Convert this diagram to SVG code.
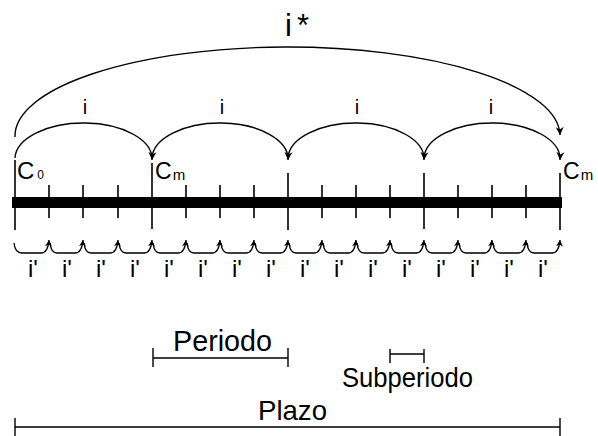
<svg xmlns="http://www.w3.org/2000/svg" width="598" height="436" viewBox="0 0 598 436">
<style>
.ln{stroke:#000;stroke-width:1.4;fill:none}
.tk{stroke:#000;stroke-width:1.6}
.t{font-family:"Liberation Sans",Arial,sans-serif;fill:#000}
.arc{stroke:#000;stroke-width:1.4;fill:none;marker-end:url(#ah)}
.sarc{stroke:#000;stroke-width:1.3;fill:none;marker-end:url(#ahs)}
</style>
<defs>
<marker id="ah" markerWidth="10" markerHeight="10" refX="9" refY="5" orient="auto" markerUnits="userSpaceOnUse">
<path d="M1,1 L9,5 L1,9 L3.5,5 Z" fill="#000"/>
</marker>
<marker id="ahs" markerWidth="8" markerHeight="8" refX="7" refY="4" orient="auto" markerUnits="userSpaceOnUse">
<path d="M0.5,0.5 L7,4 L0.5,7.5 L2.5,4 Z" fill="#000"/>
</marker>
</defs>
<rect width="598" height="436" fill="#fff"/>

<g id="timeline">
<rect x="12" y="197" width="550" height="11" fill="#000"/>
<g class="tk">
<line x1="15" y1="160" x2="15" y2="230"/>
<line x1="49" y1="185" x2="49" y2="218"/>
<line x1="83" y1="185" x2="83" y2="218"/>
<line x1="118" y1="185" x2="118" y2="218"/>
<line x1="152" y1="163" x2="152" y2="229"/>
<line x1="186" y1="185" x2="186" y2="218"/>
<line x1="220" y1="185" x2="220" y2="218"/>
<line x1="254" y1="185" x2="254" y2="218"/>
<line x1="288" y1="173" x2="288" y2="230"/>
<line x1="322" y1="185" x2="322" y2="218"/>
<line x1="356" y1="185" x2="356" y2="218"/>
<line x1="390" y1="185" x2="390" y2="218"/>
<line x1="424" y1="173" x2="424" y2="229"/>
<line x1="458" y1="185" x2="458" y2="218"/>
<line x1="492" y1="185" x2="492" y2="218"/>
<line x1="526" y1="185" x2="526" y2="218"/>
<line x1="560" y1="173" x2="560" y2="230"/>
</g>
</g>

<g id="node-c0"><text class="t" x="17" y="179" font-size="24">C<tspan font-size="12" dx="3">0</tspan></text></g>
<g id="node-cm1"><text class="t" x="155" y="179" font-size="23">C<tspan font-size="15" dx="1" dy="1">m</tspan></text></g>
<g id="node-cm2"><text class="t" x="563" y="179" font-size="23">C<tspan font-size="15" dx="1" dy="1">m</tspan></text></g>

<g id="connectors">
<path class="arc" d="M15,137 A272.5,89 0 0 1 560,135"/>
<path class="arc" d="M15,158 A68.5,36 0 0 1 152,160"/>
<path class="arc" d="M152,158 A68,36 0 0 1 288,160"/>
<path class="arc" d="M288,158 A68,36 0 0 1 424,160"/>
<path class="arc" d="M424,158 A68,36 0 0 1 560,160"/>
<g id="sub-arcs">
<path class="sarc" d="M14,243 Q15,253 22,253 H41 Q48,253 49,240"/>
<path class="sarc" d="M50,243 Q51,253 57,253 H75 Q82,253 83,240"/>
<path class="sarc" d="M84,243 Q85,253 91,253 H110 Q117,253 118,240"/>
<path class="sarc" d="M119,243 Q120,253 126,253 H144 Q151,253 152,240"/>
<path class="sarc" d="M153,243 Q154,253 160,253 H178 Q185,253 186,240"/>
<path class="sarc" d="M187,243 Q188,253 194,253 H212 Q219,253 220,240"/>
<path class="sarc" d="M221,243 Q222,253 228,253 H246 Q253,253 254,240"/>
<path class="sarc" d="M255,243 Q256,253 262,253 H280 Q287,253 288,240"/>
<path class="sarc" d="M289,243 Q290,253 296,253 H314 Q321,253 322,240"/>
<path class="sarc" d="M323,243 Q324,253 330,253 H348 Q355,253 356,240"/>
<path class="sarc" d="M357,243 Q358,253 364,253 H382 Q389,253 390,240"/>
<path class="sarc" d="M391,243 Q392,253 398,253 H416 Q423,253 424,240"/>
<path class="sarc" d="M425,243 Q426,253 432,253 H450 Q457,253 458,240"/>
<path class="sarc" d="M459,243 Q460,253 466,253 H484 Q491,253 492,240"/>
<path class="sarc" d="M493,243 Q494,253 500,253 H518 Q525,253 526,240"/>
<path class="sarc" d="M527,243 Q528,253 534,253 H552 Q559,253 560,240"/>
</g>
</g>

<g id="labels">
<text class="t" font-size="31" y="36"><tspan x="285">i</tspan><tspan x="297">*</tspan></text>
<g class="t" font-size="20" text-anchor="middle">
<text x="85" y="114">i</text>
<text x="222" y="114">i</text>
<text x="357" y="114">i</text>
<text x="491" y="114">i</text>
</g>
<g class="t" font-size="24" text-anchor="middle">
<text x="33" y="277">i'</text>
<text x="67" y="277">i'</text>
<text x="101" y="277">i'</text>
<text x="135" y="277">i'</text>
<text x="169" y="277">i'</text>
<text x="203" y="277">i'</text>
<text x="237" y="277">i'</text>
<text x="271" y="277">i'</text>
<text x="305" y="277">i'</text>
<text x="339" y="277">i'</text>
<text x="373" y="277">i'</text>
<text x="407" y="277">i'</text>
<text x="441" y="277">i'</text>
<text x="475" y="277">i'</text>
<text x="509" y="277">i'</text>
<text x="543" y="277">i'</text>
</g>
</g>

<g id="legend-periodo">
<path class="ln" d="M153,358 H288 M153,348 V367 M288,348 V367"/>
<text class="t" x="173" y="351" font-size="29" textLength="99" lengthAdjust="spacingAndGlyphs">Periodo</text>
</g>
<g id="legend-subperiodo">
<path class="ln" d="M390,354 H424 M390,349 V363 M424,349 V363"/>
<text class="t" x="342" y="387" font-size="27" textLength="131" lengthAdjust="spacingAndGlyphs">Subperiodo</text>
</g>
<g id="legend-plazo">
<path class="ln" d="M15,427 H560 M15,418 V436 M560,418 V436"/>
<text class="t" x="258" y="420" font-size="28" textLength="69" lengthAdjust="spacingAndGlyphs">Plazo</text>
</g>
</svg>
